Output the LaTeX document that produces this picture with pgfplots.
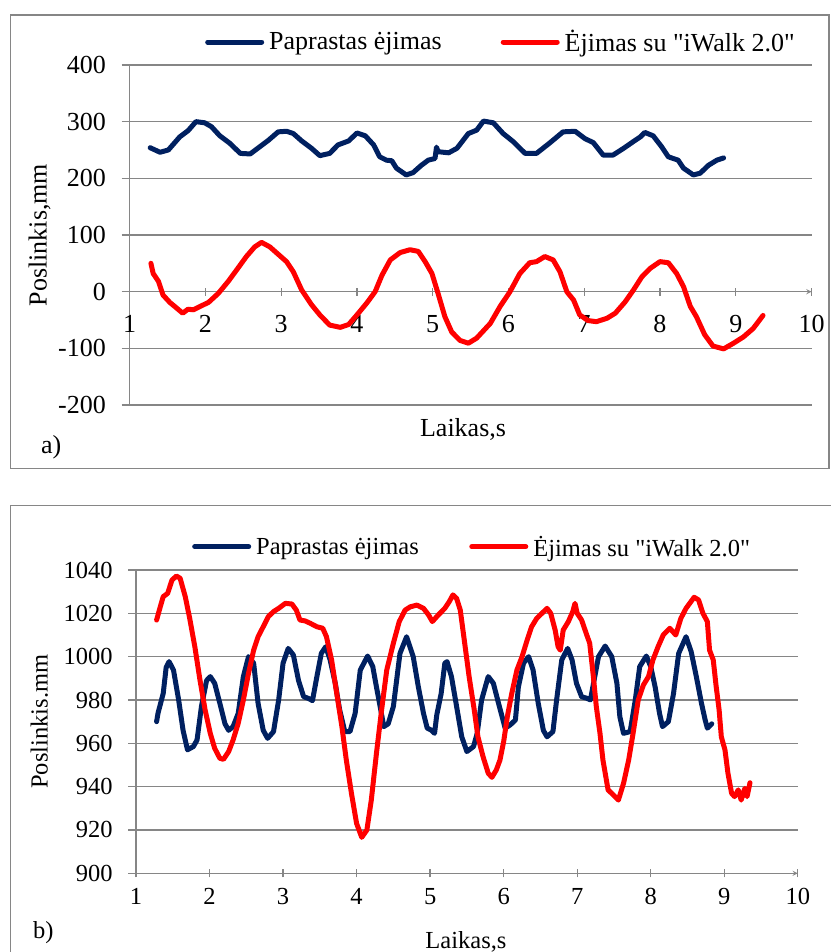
\documentclass[border=0pt]{standalone}
\usepackage{fontspec}
\setmainfont{Liberation Serif}[Ligatures=TeXOff]
\usepackage{pgfplots}
\pgfplotsset{compat=1.18}
\definecolor{navy}{RGB}{0,32,96}
\definecolor{gridgray}{RGB}{134,134,134}
\newcommand{\fa}{\fontsize{26}{30}\selectfont}
\newcommand{\fb}{\fontsize{24.5}{29}\selectfont}
\pgfplotsset{
  mystyle/.style={
    scale only axis, enlargelimits=false,
    axis y line=left,
    axis line style={gridgray,line width=1.3pt,-},
    every inner x axis line/.append style={-},
    every outer x axis line/.append style={-},
    every outer y axis line/.append style={-},
    hide obscured x ticks=false, hide obscured y ticks=false,
    ymajorgrids, grid style={gridgray,line width=1.3pt},
    tick align=outside, major tick length=8pt,
    tick style={gridgray,line width=1.3pt},
    legend columns=2, legend cell align=left,
    legend style={draw=none,fill=none,inner sep=0pt,nodes={inner sep=0pt}},
    legend image code/.code={\path (0pt,0pt) -- (54pt,0pt); \draw[##1,line cap=round] (2.5pt,0pt) -- (51.5pt,0pt);},
    every axis plot/.append style={line width=5pt, line join=round, line cap=round, mark=none},
    xtick={1,2,3,4,5,6,7,8,9,10},
    xticklabels={1,2,3,4,5,6,7,8,9,10},
  }
}
\begin{document}
\begin{tikzpicture}
\useasboundingbox (0pt,0pt) rectangle (830pt,952pt);
\draw[gridgray,line width=1.3pt] (10.6pt,937pt) rectangle (829pt,483.7pt);
\draw[gridgray,line width=1.3pt] (10.6pt,-5pt) -- (10.6pt,446.3pt) -- (840pt,446.3pt);
\node[font=\fa,anchor=base west,inner sep=0pt] at (41pt,498.7pt) {a)};
\node[font=\fb,anchor=base west,inner sep=0pt] at (33pt,13.7pt) {b)};

% ---------- panel a ----------
\begin{axis}[mystyle,
  at={(129.7pt,547pt)}, anchor=south west,
  width=681.8pt, height=340pt,
  xmin=1, xmax=10, ymin=-200, ymax=400,
  axis x line=middle,
  ytick={-200,-100,0,100,200,300,400},
  yticklabels={-200,-100,0,100,200,300,400},
  tick label style={font=\fa},
  xticklabel style={anchor=north,inner sep=0pt,yshift=-19.5pt},
  yticklabel style={anchor=east,inner sep=0pt,xshift=-15.7pt},
  xlabel={Laikas,s}, ylabel={Poslinkis,mm},
  label style={font=\fa},
  xlabel style={at={(axis description cs:0.4889,-0.0941)},anchor=base},
  ylabel style={at={(axis description cs:-0.1219,0.5)},anchor=base},
  legend style={font=\fa,at={(axis description cs:0.1104,1.0676)},anchor=west,
    /tikz/every odd column/.append style={column sep=5pt},
    /tikz/every even column/.append style={column sep=59pt}},
]
\addplot[navy] coordinates {(1.27,254)(1.40,246)(1.51,250)(1.66,273)(1.77,284)(1.875,300)(1.99,298)(2.08,291)(2.19,275)(2.32,262)(2.46,244)(2.59,243)(2.72,256)(2.83,267)(2.96,282)(3.07,283)(3.16,279)(3.27,266)(3.40,253)(3.51,240)(3.64,244)(3.75,259)(3.89,266)(4.00,280)(4.11,275)(4.22,259)(4.30,238)(4.39,232)(4.46,231)(4.52,218)(4.65,206)(4.74,210)(4.85,223)(4.94,232)(5.03,235)(5.05,255)(5.07,247)(5.21,245)(5.32,253)(5.47,279)(5.58,285)(5.67,301)(5.80,298)(5.93,279)(6.06,265)(6.22,244)(6.37,244)(6.55,263)(6.72,282)(6.88,283)(7.01,270)(7.12,263)(7.25,241)(7.38,241)(7.52,253)(7.65,265)(7.74,273)(7.80,281)(7.91,275)(8.02,256)(8.11,238)(8.24,232)(8.31,218)(8.44,206)(8.53,209)(8.64,223)(8.75,232)(8.84,236)};
\addlegendentry{Paprastas ėjimas}
\addplot[red] coordinates {(1.28,50)(1.31,32)(1.38,18)(1.44,-6)(1.53,-19)(1.62,-29)(1.70,-38)(1.77,-31)(1.84,-32)(1.93,-26)(2.04,-19)(2.17,-3)(2.30,18)(2.41,38)(2.54,62)(2.65,79)(2.74,87)(2.85,79)(2.96,66)(3.07,53)(3.16,35)(3.27,3)(3.40,-23)(3.51,-41)(3.64,-59)(3.78,-63)(3.89,-58)(4.00,-41)(4.13,-20)(4.24,0)(4.33,29)(4.44,56)(4.57,69)(4.70,74)(4.81,71)(4.90,53)(4.99,32)(5.07,-3)(5.16,-44)(5.25,-71)(5.36,-86)(5.47,-91)(5.58,-82)(5.76,-56)(5.89,-26)(6.02,0)(6.15,32)(6.28,51)(6.37,53)(6.48,62)(6.59,56)(6.68,35)(6.77,0)(6.86,-15)(6.94,-41)(7.05,-51)(7.16,-53)(7.30,-47)(7.41,-38)(7.54,-18)(7.65,3)(7.76,26)(7.87,41)(8.00,53)(8.11,51)(8.22,32)(8.31,9)(8.40,-26)(8.48,-44)(8.59,-76)(8.70,-96)(8.84,-101)(8.97,-91)(9.10,-80)(9.23,-65)(9.36,-42)};
\addlegendentry{Ėjimas su "iWalk 2.0"}
\end{axis}

% ---------- panel b ----------
\begin{axis}[mystyle,
  at={(136pt,78.7pt)}, anchor=south west,
  width=661.8pt, height=303.3pt,
  xmin=1, xmax=10, ymin=900, ymax=1040,
  axis x line=bottom,
  ytick={900,920,940,960,980,1000,1020,1040},
  yticklabels={900,920,940,960,980,1000,1020,1040},
  tick label style={font=\fb},
  xticklabel style={anchor=north,inner sep=0pt,yshift=-10.5pt},
  yticklabel style={anchor=east,inner sep=0pt,xshift=-15.2pt},
  xlabel={Laikas,s}, ylabel={Poslinkis.mm},
  label style={font=\fb},
  xlabel style={at={(axis description cs:0.4986,-0.2473)},anchor=base},
  ylabel style={at={(axis description cs:-0.1336,0.5)},anchor=base},
  legend style={font=\fb,at={(axis description cs:0.0846,1.0768)},anchor=west,
    /tikz/every odd column/.append style={column sep=5pt},
    /tikz/every even column/.append style={column sep=50.5pt}},
]
\addplot[navy] coordinates {(1.28,970)(1.30,974)(1.37,983)(1.41,995)(1.45,997.7)(1.51,993.8)(1.58,980)(1.64,966)(1.70,957)(1.78,958.5)(1.83,961.5)(1.89,977)(1.96,989)(2.01,990.8)(2.07,987.7)(2.14,978.5)(2.21,969)(2.26,966)(2.32,967.7)(2.39,973.8)(2.46,990.8)(2.53,1000)(2.60,997)(2.66,978.5)(2.73,966)(2.79,962.3)(2.87,965.4)(2.94,980)(3.00,997)(3.07,1003.8)(3.14,1000.8)(3.21,989)(3.28,981.5)(3.34,980.8)(3.40,979.7)(3.46,990.8)(3.52,1001.5)(3.58,1004.6)(3.64,998.5)(3.71,987.7)(3.77,975.4)(3.84,965.4)(3.91,965.4)(3.98,973.8)(4.05,993.8)(4.15,1000.3)(4.22,995.4)(4.27,986)(4.32,977)(4.37,967.7)(4.43,969)(4.50,977)(4.59,1001.5)(4.68,1009.2)(4.77,1000)(4.84,986)(4.91,973.8)(4.96,967)(5.02,966)(5.06,964.6)(5.09,973)(5.15,983)(5.20,997)(5.23,997.7)(5.29,990.8)(5.36,977)(5.43,963)(5.50,956.2)(5.59,958.5)(5.64,964.6)(5.70,980)(5.79,990.8)(5.86,987.7)(5.93,978.5)(6.02,967)(6.09,968.5)(6.16,970.8)(6.20,986)(6.27,997)(6.34,1000)(6.40,993.8)(6.47,978.5)(6.54,966)(6.59,963)(6.67,965.4)(6.72,980)(6.79,998.5)(6.87,1003.8)(6.93,998.5)(6.99,987.7)(7.06,981.5)(7.13,980.8)(7.18,980)(7.23,989.2)(7.29,1000)(7.38,1004.9)(7.47,1000)(7.54,987.7)(7.58,972.3)(7.63,964.6)(7.72,965.4)(7.79,980)(7.85,995.4)(7.94,1000.3)(8.00,995.4)(8.06,986)(8.12,973.8)(8.16,967.7)(8.24,970)(8.31,983)(8.38,1001.5)(8.48,1009.2)(8.55,1002.3)(8.62,990.8)(8.69,978.5)(8.74,970.8)(8.77,967)(8.83,969)};
\addlegendentry{Paprastas ėjimas}
\addplot[red] coordinates {(1.28,1016.9)(1.33,1023)(1.37,1027.7)(1.43,1029.2)(1.49,1035.4)(1.55,1037.2)(1.60,1036.2)(1.67,1027.7)(1.73,1017.7)(1.80,1004.6)(1.87,989.2)(1.94,975.4)(2.01,964.6)(2.07,957.7)(2.14,953.1)(2.19,952.6)(2.26,956.2)(2.32,961.5)(2.39,969.2)(2.46,980)(2.53,992.3)(2.60,1003)(2.66,1009.2)(2.73,1013.8)(2.80,1018.5)(2.87,1020.8)(2.94,1022.3)(3.03,1024.6)(3.12,1024.3)(3.18,1021.5)(3.23,1016.9)(3.30,1016.5)(3.37,1015.4)(3.46,1013.8)(3.54,1013.1)(3.59,1009.2)(3.66,998.5)(3.73,983)(3.80,967.7)(3.86,952.3)(3.93,936.9)(4.00,923)(4.07,916.6)(4.14,920)(4.20,933.8)(4.27,955.4)(4.34,975.4)(4.41,993.8)(4.50,1006.2)(4.58,1016.2)(4.66,1021.5)(4.73,1023)(4.82,1023.8)(4.91,1022.3)(4.98,1019.2)(5.03,1016.2)(5.11,1019.2)(5.20,1022.3)(5.26,1025.4)(5.31,1028.5)(5.36,1026.9)(5.41,1021.5)(5.47,1006.2)(5.53,990.8)(5.60,975.4)(5.65,963)(5.72,953.8)(5.79,946.2)(5.84,944.3)(5.90,947.7)(5.95,952.3)(6.00,960.8)(6.05,972.3)(6.11,983)(6.18,993.8)(6.25,1000)(6.32,1007.7)(6.38,1013.8)(6.45,1017.7)(6.52,1020)(6.59,1022.3)(6.64,1020)(6.70,1012.3)(6.74,1004.6)(6.77,1003)(6.81,1012.3)(6.88,1016.2)(6.94,1020.8)(6.97,1024.6)(7.00,1020)(7.06,1016.9)(7.13,1010)(7.17,1006.2)(7.22,990.8)(7.26,976.9)(7.31,964.6)(7.35,952.3)(7.42,938.5)(7.49,936.2)(7.56,933.8)(7.63,941.5)(7.70,952.3)(7.76,964.6)(7.83,980)(7.90,986.9)(7.97,990.8)(8.03,998.5)(8.10,1004.6)(8.17,1010)(8.26,1013.1)(8.34,1010)(8.41,1017.7)(8.48,1022.3)(8.53,1024.6)(8.59,1027.4)(8.65,1026.2)(8.71,1020)(8.77,1016.2)(8.80,1003)(8.85,998.5)(8.89,986.2)(8.93,975.4)(8.96,963)(9.01,956.9)(9.05,946.2)(9.10,936.9)(9.14,935.4)(9.19,938.5)(9.23,933.8)(9.28,939.2)(9.31,935.4)(9.35,941.8)};
\addlegendentry{Ėjimas su "iWalk 2.0"}
\end{axis}
\end{tikzpicture}
\end{document}
